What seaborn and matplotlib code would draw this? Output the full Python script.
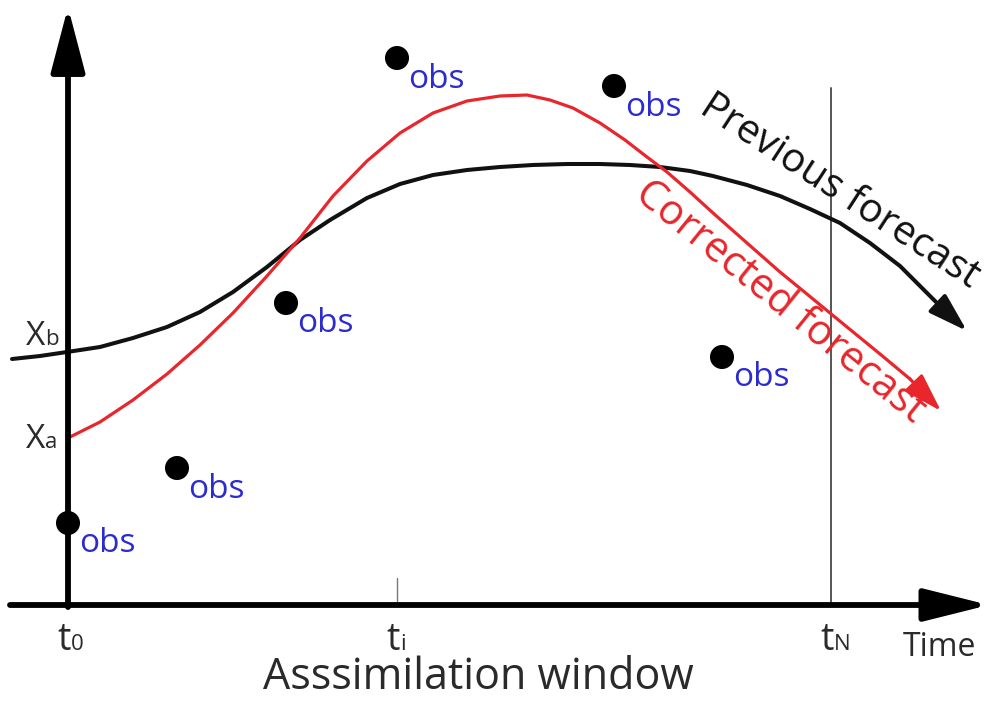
import matplotlib
matplotlib.use("Agg")
import matplotlib.pyplot as plt
import seaborn as sns
import pandas as pd

# ---------------- data (diagram units: x = time, y = state; y grows downward) ----
prev_t = [12, 40, 67, 100, 133, 167, 200, 233, 267, 300, 330, 367, 400, 433,
          467, 500, 533, 567, 600, 630, 660, 690, 713, 747, 780, 810, 840,
          870, 900, 920, 937]
prev_x = [359, 356, 352, 347, 338, 327, 312, 292, 267, 240, 220, 198, 184, 175,
          170, 167, 165, 164, 164, 165, 167, 171, 176, 185, 196, 209, 223,
          243, 266, 286, 303]
prev_tip = (967, 331)

corr_t = [68, 100, 133, 167, 200, 233, 267, 300, 333, 367, 400, 433, 467, 500,
          527, 550, 573, 600, 625, 647, 667, 690, 713, 747, 780, 813, 847,
          880, 910]
corr_x = [438, 422, 400, 374, 345, 313, 276, 238, 196, 161, 133, 113, 101, 96,
          95, 100, 108, 123, 140, 157, 172, 192, 213, 243, 272, 299, 327,
          354, 379]
corr_tip = (941, 411)

obs_t = [68, 177, 286, 397, 614, 722]
obs_x = [523, 468, 303, 58, 86, 357]
obs_label = "obs"

t0_pos, ti_pos, tN_pos = 68, 397, 831
axis_y = 605
time_main = ["t", "t", "t"]
time_sub = ["0", "i", "N"]
xb_val, xa_val = 352, 438

# ---------------- style ----------------
sns.set_theme(style="white")
plt.rcParams["font.family"] = ["Open Sans", "DejaVu Sans"]

fig = plt.figure(figsize=(9.99, 7.02), dpi=100)
ax = fig.add_axes([0, 0, 1, 1])
ax.set_xlim(0, 999)
ax.set_ylim(702, 0)
ax.axis("off")

TXT = "#2a2a2a"
BLUE = "#2b2bd0"
RED = "#e8262b"

# axes with arrows
ax.annotate("", xy=(t0_pos, 7), xytext=(t0_pos, axis_y + 2),
            arrowprops=dict(arrowstyle="-|>,head_length=40,head_width=10.5",
                            lw=4.2, color="black", mutation_scale=1,
                            shrinkA=0, shrinkB=0))
ax.annotate("", xy=(989, axis_y), xytext=(10, axis_y),
            arrowprops=dict(arrowstyle="-|>,head_length=40,head_width=10",
                            lw=4.2, color="black", mutation_scale=1,
                            shrinkA=0, shrinkB=0))

# window lines
ax.plot([ti_pos, ti_pos], [578, axis_y], color="#777777", lw=1.0)
ax.plot([tN_pos, tN_pos], [88, axis_y], color="#555555", lw=1.4)

# curves
dprev = pd.DataFrame({"t": prev_t, "x": prev_x})
dcorr = pd.DataFrame({"t": corr_t, "x": corr_x})
sns.lineplot(data=dprev, x="t", y="x", sort=False, color="#111111", lw=2.9, ax=ax)
sns.lineplot(data=dcorr, x="t", y="x", sort=False, color=RED, lw=2.3, ax=ax)
ax.annotate("", xy=prev_tip, xytext=(prev_t[-1], prev_x[-1]),
            arrowprops=dict(arrowstyle="-|>,head_length=24,head_width=7.5",
                            lw=2.9, color="#111111", mutation_scale=1,
                            shrinkA=0, shrinkB=0))
ax.annotate("", xy=corr_tip, xytext=(corr_t[-1], corr_x[-1]),
            arrowprops=dict(arrowstyle="-|>,head_length=24,head_width=7.5",
                            lw=2.3, color=RED, mutation_scale=1,
                            shrinkA=0, shrinkB=0))

# observations
dobs = pd.DataFrame({"t": obs_t, "x": obs_x})
sns.scatterplot(data=dobs, x="t", y="x", color="black", s=300, edgecolor="none",
                ax=ax, zorder=5)
for t, x in zip(obs_t, obs_x):
    ax.text(t + 11, x + 21, obs_label, color=BLUE, fontsize=24,
            ha="left", va="center")

ax.set_xlabel("")
ax.set_ylabel("")

# state labels (big letter + small baseline subscript)
for val, sub in [(xb_val, "b"), (xa_val, "a")]:
    base = val - 7 if sub == "b" else val + 10
    ax.text(45, base, "X", fontsize=24, color=TXT, ha="right", va="baseline")
    ax.text(45, base, sub, fontsize=16, color=TXT, ha="left", va="baseline")

# time labels
for pos, m, s in zip([t0_pos, ti_pos, tN_pos], time_main, time_sub):
    ax.text(pos + 3, 650, m, fontsize=27, color=TXT, ha="right", va="baseline")
    ax.text(pos + 3, 650, s, fontsize=16, color=TXT, ha="left", va="baseline")
ax.text(939, 648, "Time", fontsize=23, color=TXT, ha="center", va="center")
ax.text(478, 678, "Asssimilation window", fontsize=31, color=TXT,
        ha="center", va="center")

ax.text(840, 192, "Previous forecast", fontsize=29, color="#111111",
        rotation=-33, rotation_mode="anchor", ha="center", va="center")
ax.text(780, 302, "Corrected forecast", fontsize=30, color=RED,
        rotation=-39, rotation_mode="anchor", ha="center", va="center")

fig.savefig("out.png", dpi=100)
